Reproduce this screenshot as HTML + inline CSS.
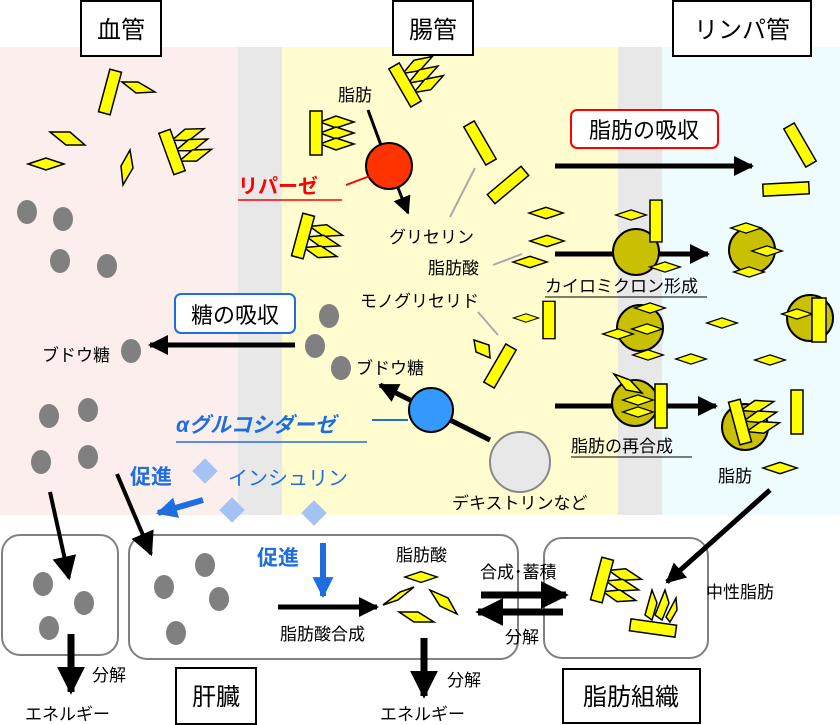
<!DOCTYPE html>
<html><head><meta charset="utf-8"><style>
html,body{margin:0;padding:0;background:#fff;}
svg{display:block;font-family:"Liberation Sans","Noto Sans CJK JP",sans-serif;}
.l{font-size:17px;}
</style></head><body>
<svg width="840" height="725" viewBox="0 0 840 725" xmlns="http://www.w3.org/2000/svg">
<defs>
<marker id="ah" viewBox="0 0 10 10" refX="9" refY="5" markerWidth="4" markerHeight="4" orient="auto"><path d="M0,0L10,5L0,10z" fill="#000"/></marker>
<marker id="ahs" viewBox="0 0 10 10" refX="9" refY="5" markerWidth="6" markerHeight="6" orient="auto"><path d="M0,0L10,5L0,10z" fill="#000"/></marker>
<marker id="ahb" viewBox="0 0 10 10" refX="9" refY="5" markerWidth="3.5" markerHeight="3.5" orient="auto"><path d="M0,0L10,5L0,10z" fill="#1e6ee0"/></marker>
<polygon id="dm" points="-18,0 0,-6 18,0 0,6" fill="#ffff00" stroke="#000" stroke-width="1.5"/>
<rect id="bar" x="-6" y="-22" width="12" height="44" fill="#ffff00" stroke="#000" stroke-width="1.5"/>
<g id="tg">
<polygon points="4,-11 20,-17 38,-11 20,-5" fill="#ffff00" stroke="#000" stroke-width="1.5"/>
<polygon points="4,0 20,-6 38,0 20,6" fill="#ffff00" stroke="#000" stroke-width="1.5"/>
<polygon points="4,11 20,5 38,11 20,17" fill="#ffff00" stroke="#000" stroke-width="1.5"/>
<rect x="-6" y="-22" width="12" height="44" fill="#ffff00" stroke="#000" stroke-width="1.5"/>
</g>
<ellipse id="gc" rx="10" ry="12" fill="#808080"/>
<circle id="cm" r="23" fill="#c8c000" stroke="#000" stroke-width="2"/>
<rect id="ins" x="-9" y="-9" width="18" height="18" fill="#a4c2f4" transform="rotate(45)"/>
</defs>

<rect x="0" y="47" width="238" height="468" fill="#fdeeee"/>
<rect x="238" y="47" width="44" height="468" fill="#e8e8e8"/>
<rect x="282" y="47" width="336" height="468" fill="#fffdd0"/>
<rect x="618" y="47" width="44" height="468" fill="#e8e8e8"/>
<rect x="662" y="47" width="178" height="468" fill="#eefcff"/>

<rect x="81" y="1" width="80" height="55" fill="#fff" stroke="#000" stroke-width="2"/>
<text x="121" y="38" font-size="24" text-anchor="middle">血管</text>
<rect x="393" y="1" width="80" height="54" fill="#fff" stroke="#000" stroke-width="2"/>
<text x="433" y="38" font-size="24" text-anchor="middle">腸管</text>
<rect x="673" y="1" width="138" height="55" fill="#fff" stroke="#000" stroke-width="2"/>
<text x="742" y="38" font-size="24" text-anchor="middle">リンパ管</text>

<use href="#bar" transform="translate(110,92) rotate(15)"/>
<polygon points="122,82 138,82 155,92 136,93" fill="#ff0" stroke="#000" stroke-width="1.5"/>
<polygon points="50,132 70,132 85,145 66,145" fill="#ff0" stroke="#000" stroke-width="1.5"/>
<use href="#dm" transform="translate(46,164)"/>
<polygon points="130,150 133,168 123,185 121,166" fill="#ff0" stroke="#000" stroke-width="1.5"/>
<use href="#tg" transform="translate(172,152) rotate(-20)"/>
<use href="#gc" x="27" y="212"/><use href="#gc" x="63" y="219"/>
<use href="#gc" x="60" y="261"/><use href="#gc" x="107" y="266"/>
<use href="#gc" x="131" y="351"/>
<use href="#gc" x="49" y="416"/><use href="#gc" x="88" y="410"/>
<use href="#gc" x="41" y="462"/><use href="#gc" x="88" y="457"/>
<text x="42" y="361" class="l">ブドウ糖</text>

<rect x="175" y="294" width="120" height="39" rx="6" fill="#fff" stroke="#1e6ee0" stroke-width="2"/>
<text x="235" y="323" font-size="22" text-anchor="middle">糖の吸収</text>
<line x1="295" y1="345" x2="150" y2="345" stroke="#000" stroke-width="5" marker-end="url(#ah)"/>

<use href="#tg" transform="translate(405,85) rotate(-30)"/>
<use href="#tg" transform="translate(316,133)"/>
<use href="#tg" transform="translate(303,236) rotate(15)"/>
<text x="338" y="101" class="l">脂肪</text>
<line x1="368" y1="110" x2="382" y2="148" stroke="#000" stroke-width="3"/>
<line x1="398" y1="188" x2="408" y2="213" stroke="#000" stroke-width="3" marker-end="url(#ahs)"/>
<circle cx="389" cy="166" r="23" fill="#ff3300" stroke="#000" stroke-width="2"/>
<text x="238" y="193" font-size="20" font-weight="bold" fill="#ff0000">リパーゼ</text>
<line x1="238" y1="200" x2="342" y2="200" stroke="#ff0000" stroke-width="1.5"/>
<line x1="346" y1="185" x2="370" y2="176" stroke="#ff0000" stroke-width="2"/>
<use href="#bar" transform="translate(480,143) rotate(-30)"/>
<use href="#bar" transform="translate(508,185) rotate(50)"/>
<use href="#dm" transform="translate(546,213) scale(0.95)"/>
<use href="#dm" transform="translate(547,241) scale(0.95)"/>
<use href="#dm" transform="translate(530,262) scale(0.95)"/>
<line x1="475" y1="168" x2="450" y2="217" stroke="#aaa" stroke-width="2"/>
<line x1="493" y1="265" x2="522" y2="254" stroke="#aaa" stroke-width="2"/>
<text x="389" y="243" class="l">グリセリン</text>
<text x="428" y="274" class="l">脂肪酸</text>
<text x="360" y="307" class="l">モノグリセリド</text>
<line x1="478" y1="312" x2="498" y2="335" stroke="#aaa" stroke-width="2"/>
<use href="#bar" transform="translate(500,366) rotate(30)"/>
<polygon points="474,340 489,345 490,358 476,352" fill="#ff0" stroke="#000" stroke-width="1.5"/>
<use href="#bar" transform="translate(549,320) scale(1,0.85)"/>
<use href="#dm" transform="translate(526,318) scale(0.7)"/>
<use href="#gc" x="329" y="316"/><use href="#gc" x="315" y="346"/><use href="#gc" x="341" y="368"/>
<text x="356" y="374" class="l">ブドウ糖</text>
<line x1="490" y1="440" x2="380" y2="385" stroke="#000" stroke-width="5" marker-end="url(#ah)"/>
<circle cx="431" cy="410" r="22" fill="#3399ff" stroke="#000" stroke-width="2"/>
<circle cx="520" cy="462" r="30" fill="#e8e8e8" stroke="#888" stroke-width="2"/>
<text x="176" y="432" font-size="21" font-weight="bold" font-style="italic" fill="#1e6ee0">αグルコシダーゼ</text>
<line x1="176" y1="442" x2="367" y2="442" stroke="#1e6ee0" stroke-width="1.5"/>
<line x1="372" y1="420" x2="408" y2="420" stroke="#1e6ee0" stroke-width="2"/>
<text x="452" y="509" class="l">デキストリンなど</text>

<rect x="571" y="110" width="147" height="38" rx="6" fill="#fff" stroke="#ff0000" stroke-width="2"/>
<text x="644" y="138" font-size="22" text-anchor="middle">脂肪の吸収</text>
<line x1="555" y1="166" x2="752" y2="166" stroke="#000" stroke-width="5" marker-end="url(#ah)"/>
<line x1="555" y1="254" x2="708" y2="254" stroke="#000" stroke-width="5" marker-end="url(#ah)"/>
<line x1="555" y1="406" x2="716" y2="406" stroke="#000" stroke-width="5" marker-end="url(#ah)"/>
<use href="#bar" transform="translate(800,145) rotate(-30)"/>
<rect x="763" y="183" width="46" height="12" fill="#ff0" stroke="#000" stroke-width="1.5" transform="rotate(-3 786 189)"/>
<use href="#cm" x="636" y="252"/>
<use href="#bar" transform="translate(656,221) scale(1,0.95)"/>
<use href="#dm" transform="translate(631,215) scale(0.85)"/>
<use href="#dm" transform="translate(665,267) scale(0.85)"/>
<use href="#cm" x="752" y="250"/>
<use href="#dm" transform="translate(746,228) scale(0.85)"/>
<use href="#dm" transform="translate(767,251) scale(0.85)"/>
<use href="#dm" transform="translate(749,272) scale(0.85)"/>
<use href="#cm" x="640" y="328"/>
<use href="#dm" transform="translate(650,308) scale(0.85)"/>
<use href="#dm" transform="translate(647,329) scale(0.85)"/>
<use href="#dm" transform="translate(618,334) scale(0.85)"/>
<use href="#dm" transform="translate(648,355) scale(0.85)"/>
<use href="#cm" x="810" y="318"/>
<use href="#dm" transform="translate(797,314) scale(0.85)"/>
<rect x="812" y="298" width="14" height="44" fill="#ff0" stroke="#000" stroke-width="1.5"/>
<use href="#dm" transform="translate(722,323) scale(0.85)"/>
<use href="#dm" transform="translate(770,360) scale(0.85)"/>
<use href="#dm" transform="translate(691,359) scale(0.85)"/>
<use href="#cm" x="635" y="403"/>
<polygon points="614,374 630,380 642,393 626,390" fill="#ff0" stroke="#000" stroke-width="1.5"/>
<use href="#dm" transform="translate(638,400) scale(0.85)"/>
<use href="#dm" transform="translate(638,412) scale(0.85)"/>
<rect x="655" y="384" width="12" height="44" fill="#ff0" stroke="#000" stroke-width="1.5"/>
<use href="#cm" x="745" y="427"/>
<use href="#tg" transform="translate(740,422) rotate(-15)"/>
<rect x="791" y="390" width="12" height="44" fill="#ff0" stroke="#000" stroke-width="1.5"/>
<text x="545" y="292" class="l">カイロミクロン形成</text>
<line x1="545" y1="297" x2="707" y2="297" stroke="#000" stroke-width="1"/>
<text x="571" y="452" class="l">脂肪の再合成</text>
<line x1="571" y1="457" x2="692" y2="457" stroke="#000" stroke-width="1"/>
<text x="718" y="482" class="l">脂肪</text>
<use href="#dm" transform="translate(780,468) scale(0.95)"/>

<text x="130" y="484" font-size="21" font-weight="bold" fill="#1e6ee0">促進</text>
<use href="#ins" x="205" y="471"/>
<use href="#ins" x="232" y="510"/>
<use href="#ins" x="314" y="513"/>
<text x="228" y="485" font-size="20" fill="#1e6ee0">インシュリン</text>
<line x1="203" y1="500" x2="158" y2="513" stroke="#1e6ee0" stroke-width="6" marker-end="url(#ahb)"/>

<rect x="2" y="535" width="116" height="120" rx="18" fill="#fff" stroke="#808080" stroke-width="2"/>
<rect x="129" y="535" width="389" height="124" rx="18" fill="#fff" stroke="#808080" stroke-width="2"/>
<rect x="544" y="538" width="164" height="120" rx="18" fill="#fff" stroke="#808080" stroke-width="2"/>
<line x1="770" y1="490" x2="667" y2="582" stroke="#000" stroke-width="5" marker-end="url(#ah)"/>
<line x1="50" y1="492" x2="69" y2="578" stroke="#000" stroke-width="4" marker-end="url(#ahs)"/>
<line x1="117" y1="474" x2="151" y2="554" stroke="#000" stroke-width="4" marker-end="url(#ahs)"/>
<use href="#gc" x="43" y="584"/><use href="#gc" x="84" y="603"/><use href="#gc" x="49" y="628"/>
<line x1="71" y1="634" x2="71" y2="692" stroke="#000" stroke-width="7" marker-end="url(#ah)"/>
<text x="92" y="681" class="l">分解</text>
<text x="25" y="720" class="l">エネルギー</text>
<use href="#gc" x="164" y="587"/><use href="#gc" x="205" y="565"/><use href="#gc" x="219" y="599"/><use href="#gc" x="176" y="633"/>
<text x="257" y="565" font-size="21" font-weight="bold" fill="#1e6ee0">促進</text>
<line x1="323" y1="543" x2="323" y2="596" stroke="#1e6ee0" stroke-width="6" marker-end="url(#ahb)"/>
<line x1="278" y1="607" x2="377" y2="607" stroke="#000" stroke-width="5" marker-end="url(#ah)"/>
<text x="280" y="640" class="l">脂肪酸合成</text>
<text x="396" y="561" class="l">脂肪酸</text>
<use href="#dm" transform="translate(421,577) scale(0.9)"/>
<polygon points="383,605 400,592 414,587 398,600" fill="#ff0" stroke="#000" stroke-width="1.5"/>
<polygon points="430,590 448,598 457,614 440,606" fill="#ff0" stroke="#000" stroke-width="1.5"/>
<polygon points="399,612 418,612 434,622 414,622" fill="#ff0" stroke="#000" stroke-width="1.5"/>
<line x1="424" y1="638" x2="424" y2="696" stroke="#000" stroke-width="7" marker-end="url(#ah)"/>
<text x="447" y="686" class="l">分解</text>
<text x="380" y="720" class="l">エネルギー</text>
<rect x="176" y="668" width="80" height="56" fill="#fff" stroke="#000" stroke-width="2"/>
<text x="216" y="705" font-size="24" text-anchor="middle">肝臓</text>
<line x1="481" y1="595" x2="566" y2="595" stroke="#000" stroke-width="7" marker-end="url(#ah)"/>
<line x1="563" y1="612" x2="478" y2="612" stroke="#000" stroke-width="7" marker-end="url(#ah)"/>
<text x="480" y="578" class="l">合成･蓄積</text>
<text x="505" y="643" class="l">分解</text>
<use href="#tg" transform="translate(602,580) rotate(15)"/>
<rect x="630" y="622" width="46" height="12" fill="#ff0" stroke="#000" stroke-width="1.5" transform="rotate(8 653 628)"/>
<polygon points="645,615 652,590 657,603 652,620" fill="#ff0" stroke="#000" stroke-width="1.5"/>
<polygon points="655,615 665,590 669,603 662,620" fill="#ff0" stroke="#000" stroke-width="1.5"/>
<polygon points="666,617 676,598 677,610 670,622" fill="#ff0" stroke="#000" stroke-width="1.5"/>
<text x="706" y="598" class="l">中性脂肪</text>
<rect x="563" y="669" width="137" height="54" fill="#fff" stroke="#000" stroke-width="2"/>
<text x="631" y="705" font-size="24" text-anchor="middle">脂肪組織</text>
</svg>
</body></html>
